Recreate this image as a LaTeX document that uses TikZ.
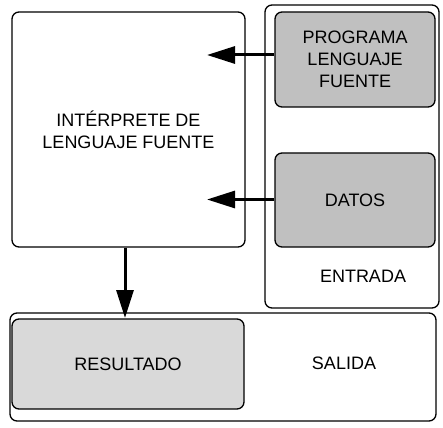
\documentclass[tikz,border=0pt]{standalone}
\usepackage{fontspec}
\setmainfont{Liberation Sans}
\usetikzlibrary{arrows.meta,calc,positioning}
\definecolor{grisoscuro}{HTML}{C0C0C0}
\definecolor{grisclaro}{HTML}{D9D9D9}
\tikzset{
	every node/.style={
		font=\fontsize{18}{22}\selectfont
	},
	caja/.style={
		shape=rectangle,
		rounded corners=7pt,
		draw=black,
		line width=1.3pt,
		text centered,
		align=center,
		inner sep=0pt
	},
	entrada/.style={
		caja,
		fill=grisoscuro
	},
	salida/.style={
		caja,
		fill=grisclaro
	},
	flecha/.style={
		line width=3pt,
		-{Triangle[length=28pt,width=17pt]}
	}
}

\begin{document}
\begin{tikzpicture}[x=1pt,y=-1pt]
	\useasboundingbox (0,0) rectangle (443,427);
	
	% Contenedores
	\node[caja, minimum width=174pt, minimum height=303pt] (ent) at (352,156.5) {};
	\node[caja, minimum width=426pt, minimum height=108pt] (sal) at (223,367) {};
	
	% Interprete
	\node[caja, fill=white, minimum width=233pt, minimum height=235pt] (interp) at (128.5,129.5)
		{INTÉRPRETE DE\\LENGUAJE FUENTE};
	
	% Entradas
	\node[entrada, minimum width=160pt, minimum height=95pt] (prog) at (355,59.5)
		{PROGRAMA\\LENGUAJE\\FUENTE};
	\node[entrada, minimum width=160pt, minimum height=94pt] (datos) at (355,200) {DATOS};
	\node (lblent) at (363,276) {ENTRADA};
	
	% Salida
	\node[salida, minimum width=232pt, minimum height=90pt] (res) at (128,364) {RESULTADO};
	\node (lblsal) at (344,363) {SALIDA};
	
	% Flechas
	\coordinate (p1) at (207,55);
	\coordinate (p2) at (207,199.5);
	\coordinate (p3) at (125,318);
	\draw[flecha] (prog.west |- p1) -- (p1);
	\draw[flecha] (datos.west |- p2) -- (p2);
	\draw[flecha] (interp.south -| p3) -- (p3);
\end{tikzpicture}
\end{document}
